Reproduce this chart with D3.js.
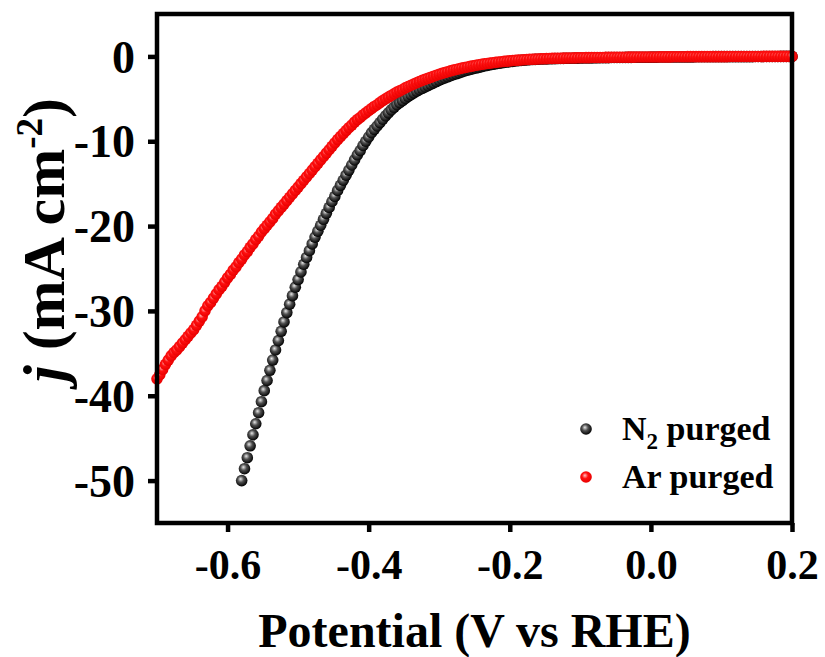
<!DOCTYPE html>
<html>
<head>
<meta charset="utf-8">
<script src="https://cdn.jsdelivr.net/npm/d3@7"></script>
<style>
  html, body { margin: 0; padding: 0; background: #fff; }
  svg text { font-family: "Liberation Serif", "Times New Roman", serif; font-weight: bold; }
</style>
</head>
<body>
<svg id="chart" width="825" height="657"></svg>
<script>
// ---------------- data (potential in V vs RHE, current density in mA cm^-2) ----------------
const potentialAr = [
  -0.700,-0.696,-0.692,-0.688,-0.684,-0.680,-0.676,-0.672,-0.668,-0.664,
  -0.660,-0.656,-0.652,-0.648,-0.644,-0.640,-0.636,-0.632,-0.628,-0.624,
  -0.620,-0.616,-0.612,-0.608,-0.604,-0.600,-0.596,-0.592,-0.588,-0.584,
  -0.580,-0.576,-0.572,-0.568,-0.564,-0.560,-0.556,-0.552,-0.548,-0.544,
  -0.540,-0.536,-0.532,-0.528,-0.524,-0.520,-0.516,-0.512,-0.508,-0.504,
  -0.500,-0.496,-0.492,-0.488,-0.484,-0.480,-0.476,-0.472,-0.468,-0.464,
  -0.460,-0.456,-0.452,-0.448,-0.444,-0.440,-0.436,-0.432,-0.428,-0.424,
  -0.420,-0.416,-0.412,-0.408,-0.404,-0.400,-0.396,-0.392,-0.388,-0.384,
  -0.380,-0.376,-0.372,-0.368,-0.364,-0.360,-0.356,-0.352,-0.348,-0.344,
  -0.340,-0.336,-0.332,-0.328,-0.324,-0.320,-0.316,-0.312,-0.308,-0.304,
  -0.300,-0.296,-0.292,-0.288,-0.284,-0.280,-0.276,-0.272,-0.268,-0.264,
  -0.260,-0.256,-0.252,-0.248,-0.244,-0.240,-0.236,-0.232,-0.228,-0.224,
  -0.220,-0.216,-0.212,-0.208,-0.204,-0.200,-0.196,-0.192,-0.188,-0.184,
  -0.180,-0.176,-0.172,-0.168,-0.164,-0.160,-0.156,-0.152,-0.148,-0.144,
  -0.140,-0.136,-0.132,-0.128,-0.124,-0.120,-0.116,-0.112,-0.108,-0.104,
  -0.100,-0.096,-0.092,-0.088,-0.084,-0.080,-0.076,-0.072,-0.068,-0.064,
  -0.060,-0.056,-0.052,-0.048,-0.044,-0.040,-0.036,-0.032,-0.028,-0.024,
  -0.020,-0.016,-0.012,-0.008,-0.004, 0.000, 0.004, 0.008, 0.012, 0.016,
   0.020, 0.024, 0.028, 0.032, 0.036, 0.040, 0.044, 0.048, 0.052, 0.056,
   0.060, 0.064, 0.068, 0.072, 0.076, 0.080, 0.084, 0.088, 0.092, 0.096,
   0.100, 0.104, 0.108, 0.112, 0.116, 0.120, 0.124, 0.128, 0.132, 0.136,
   0.140, 0.144, 0.148, 0.152, 0.156, 0.160, 0.164, 0.168, 0.172, 0.176,
   0.180, 0.184, 0.188, 0.192, 0.196, 0.200
];
const currentAr = [
  -38.0,-37.5,-36.9,-36.3,-35.8,-35.3,-34.9,-34.6,-34.2,-33.8,
  -33.4,-33.0,-32.6,-32.2,-31.7,-31.2,-30.7,-30.0,-29.4,-29.0,
  -28.5,-28.0,-27.5,-27.1,-26.6,-26.1,-25.7,-25.2,-24.8,-24.3,
  -23.9,-23.4,-23.0,-22.5,-22.1,-21.6,-21.2,-20.7,-20.3,-19.9,
  -19.5,-19.1,-18.6,-18.2,-17.8,-17.4,-17.0,-16.6,-16.2,-15.8,
  -15.4,-15.0,-14.6,-14.2,-13.8,-13.4,-13.0,-12.6,-12.2,-11.8,
  -11.4,-11.0,-10.6,-10.2,-9.8,-9.45,-9.1,-8.75,-8.4,-8.1,
  -7.75,-7.45,-7.2,-6.9,-6.65,-6.4,-6.15,-5.9,-5.7,-5.45,
  -5.2,-5.0,-4.8,-4.6,-4.4,-4.2,-4.05,-3.9,-3.7,-3.55,
  -3.4,-3.25,-3.1,-2.95,-2.82,-2.7,-2.58,-2.46,-2.34,-2.22,
  -2.1,-2.0,-1.9,-1.8,-1.71,-1.62,-1.54,-1.46,-1.38,-1.31,
  -1.24,-1.17,-1.11,-1.05,-0.99,-0.93,-0.88,-0.83,-0.79,-0.74,
  -0.7,-0.66,-0.62,-0.59,-0.56,-0.52,-0.49,-0.47,-0.44,-0.42,
  -0.39,-0.37,-0.35,-0.33,-0.32,-0.3,-0.28,-0.27,-0.26,-0.24,
  -0.23,-0.22,-0.21,-0.21,-0.2,-0.19,-0.18,-0.18,-0.17,-0.16,
  -0.15,-0.15,-0.14,-0.14,-0.13,-0.13,-0.12,-0.12,-0.12,-0.11,
  -0.11,-0.1,-0.1,-0.1,-0.09,-0.09,-0.09,-0.08,-0.08,-0.08,
  -0.07,-0.07,-0.07,-0.07,-0.06,-0.06,-0.06,-0.06,-0.05,-0.05,
  -0.05,-0.05,-0.05,-0.04,-0.04,-0.04,-0.04,-0.04,-0.03,-0.03,
  -0.03,-0.03,-0.03,-0.03,-0.03,-0.02,-0.02,-0.02,-0.02,-0.02,
  -0.02,-0.02,-0.02,-0.01,-0.01,-0.01,-0.01,-0.01,-0.01,-0.01,
  -0.01,-0.01,-0.01,-0.01,-0.01,0,0,0,0,0,
  0,0,0,0,0,0
];
const potentialN2 = [
  -0.580,-0.576,-0.572,-0.568,-0.564,-0.560,-0.556,-0.552,-0.548,-0.544,
  -0.540,-0.536,-0.532,-0.528,-0.524,-0.520,-0.516,-0.512,-0.508,-0.504,
  -0.500,-0.496,-0.492,-0.488,-0.484,-0.480,-0.476,-0.472,-0.468,-0.464,
  -0.460,-0.456,-0.452,-0.448,-0.444,-0.440,-0.436,-0.432,-0.428,-0.424,
  -0.420,-0.416,-0.412,-0.408,-0.404,-0.400,-0.396,-0.392,-0.388,-0.384,
  -0.380,-0.376,-0.372,-0.368,-0.364,-0.360,-0.356,-0.352,-0.348,-0.344,
  -0.340,-0.336,-0.332,-0.328,-0.324,-0.320,-0.316,-0.312,-0.308,-0.304,
  -0.300,-0.296,-0.292,-0.288,-0.284,-0.280,-0.276,-0.272,-0.268,-0.264,
  -0.260,-0.256,-0.252,-0.248,-0.244,-0.240,-0.236,-0.232,-0.228,-0.224,
  -0.220,-0.216,-0.212,-0.208,-0.204,-0.200,-0.196,-0.192,-0.188,-0.184,
  -0.180,-0.176,-0.172,-0.168,-0.164,-0.160,-0.156,-0.152,-0.148,-0.144,
  -0.140,-0.136,-0.132,-0.128,-0.124,-0.120,-0.116,-0.112,-0.108,-0.104,
  -0.100,-0.096,-0.092,-0.088,-0.084,-0.080,-0.076,-0.072,-0.068,-0.064,
  -0.060,-0.056,-0.052,-0.048,-0.044,-0.040,-0.036,-0.032,-0.028,-0.024,
  -0.020,-0.016,-0.012,-0.008,-0.004, 0.000, 0.004, 0.008, 0.012, 0.016,
   0.020, 0.024, 0.028, 0.032, 0.036, 0.040, 0.044, 0.048, 0.052, 0.056,
   0.060, 0.064, 0.068, 0.072, 0.076, 0.080, 0.084, 0.088, 0.092, 0.096,
   0.100, 0.104, 0.108, 0.112, 0.116, 0.120, 0.124, 0.128, 0.132, 0.136,
   0.140, 0.144, 0.148, 0.152, 0.156, 0.160, 0.164, 0.168, 0.172, 0.176,
   0.180, 0.184, 0.188, 0.192, 0.196, 0.200
];
const currentN2 = [
  -50.0,-48.6,-47.3,-45.9,-44.6,-43.3,-42.0,-40.7,-39.4,-38.2,
  -37.0,-35.8,-34.6,-33.5,-32.4,-31.3,-30.2,-29.2,-28.2,-27.2,
  -26.3,-25.4,-24.5,-23.7,-22.9,-22.1,-21.3,-20.6,-19.9,-19.2,
  -18.5,-17.8,-17.1,-16.5,-15.8,-15.2,-14.6,-14.0,-13.4,-12.8,
  -12.2,-11.6,-11.1,-10.5,-10.0,-9.5,-9.0,-8.6,-8.2,-7.8,
  -7.4,-7.0,-6.65,-6.3,-6.0,-5.7,-5.45,-5.2,-4.95,-4.7,
  -4.5,-4.3,-4.1,-3.92,-3.76,-3.6,-3.44,-3.28,-3.12,-2.96,
  -2.8,-2.66,-2.53,-2.4,-2.28,-2.16,-2.05,-1.94,-1.83,-1.72,
  -1.62,-1.53,-1.45,-1.37,-1.29,-1.21,-1.13,-1.06,-0.99,-0.93,
  -0.87,-0.81,-0.76,-0.71,-0.66,-0.62,-0.58,-0.54,-0.5,-0.47,
  -0.44,-0.41,-0.39,-0.37,-0.35,-0.33,-0.31,-0.3,-0.29,-0.28,
  -0.27,-0.26,-0.25,-0.24,-0.23,-0.22,-0.22,-0.21,-0.2,-0.2,
  -0.19,-0.18,-0.18,-0.17,-0.17,-0.16,-0.16,-0.15,-0.15,-0.14,
  -0.14,-0.13,-0.13,-0.12,-0.12,-0.12,-0.11,-0.11,-0.11,-0.1,
  -0.1,-0.1,-0.09,-0.09,-0.09,-0.08,-0.08,-0.08,-0.07,-0.07,
  -0.07,-0.07,-0.06,-0.06,-0.06,-0.06,-0.05,-0.05,-0.05,-0.05,
  -0.05,-0.04,-0.04,-0.04,-0.04,-0.04,-0.04,-0.03,-0.03,-0.03,
  -0.03,-0.03,-0.03,-0.03,-0.02,-0.02,-0.02,-0.02,-0.02,-0.02,
  -0.02,-0.02,-0.01,-0.01,-0.01,-0.01,-0.01,-0.01,-0.01,-0.01,
  -0.01,0,0,0,0,0
];
const xTicks = [-0.6, -0.4, -0.2, 0.0, 0.2];
const xTickLabels = ["-0.6", "-0.4", "-0.2", "0.0", "0.2"];
const yTicks = [0, -10, -20, -30, -40, -50];
const yTickLabels = ["0", "-10", "-20", "-30", "-40", "-50"];
const seriesNames = ["N2 purged", "Ar purged"];

// ---------------- layout ----------------
const W = 825, H = 657;
const margin = { left: 157, right: 33, top: 14, bottom: 134 };
const iw = W - margin.left - margin.right;
const ih = H - margin.top - margin.bottom;
const FONT = '"Liberation Serif", "Times New Roman", serif';

const svg = d3.select("#chart");
const defs = svg.append("defs");

function sphere(id, light, mid, dark) {
  const gr = defs.append("radialGradient").attr("id", id)
    .attr("cx", "45%").attr("cy", "42%").attr("r", "58%").attr("fx", "40%").attr("fy", "36%");
  gr.append("stop").attr("offset", "0%").attr("stop-color", light);
  gr.append("stop").attr("offset", "45%").attr("stop-color", mid);
  gr.append("stop").attr("offset", "100%").attr("stop-color", dark);
}
sphere("gBlack", "#e8e8e8", "#505050", "#000000");
sphere("gRed", "#ffc4c4", "#ff1010", "#e80000");
const fills = ["url(#gBlack)", "url(#gRed)"];

const x = d3.scaleLinear().domain([-0.7, 0.2]).range([0, iw]);
const y = d3.scaleLinear().domain([-55, 5]).range([ih, 0]);

const g = svg.append("g").attr("transform", `translate(${margin.left},${margin.top})`);

const series = [
  potentialN2.map((v, i) => ({ v, j: currentN2[i] })),
  potentialAr.map((v, i) => ({ v, j: currentAr[i] }))
];

const R = 5.8;
series.forEach((data, si) => {
  g.append("g").selectAll("circle").data(data).join("circle")
    .attr("cx", d => x(d.v))
    .attr("cy", d => y(d.j))
    .attr("r", R)
    .attr("fill", fills[si]);
});

// axes
const axisW = 4.5;
const xAxis = d3.axisBottom(x).tickValues(xTicks).tickSize(9)
  .tickFormat((d, i) => xTickLabels[i]);
const yAxis = d3.axisLeft(y).tickValues(yTicks).tickSize(9).tickPadding(13)
  .tickFormat((d, i) => yTickLabels[i]);

const gx = g.append("g").attr("transform", `translate(0,${ih})`).call(xAxis);
const gy = g.append("g").call(yAxis);
[gx, gy].forEach(a => {
  a.select(".domain").remove();
  a.selectAll(".tick line").attr("stroke", "#000").attr("stroke-width", axisW);
  a.selectAll(".tick text").attr("fill", "#000")
    .style("font-family", FONT).style("font-weight", "bold");
});
gx.selectAll(".tick text").style("font-size", "42px").attr("y", 56).attr("dy", 0);
gy.selectAll(".tick text").style("font-size", "46px").attr("dy", "0.34em");

// frame
g.append("rect").attr("x", 0).attr("y", 0).attr("width", iw).attr("height", ih)
  .attr("fill", "none").attr("stroke", "#000").attr("stroke-width", axisW);

// axis titles
svg.append("text")
  .attr("x", margin.left + iw / 2).attr("y", 647)
  .attr("text-anchor", "middle").style("font-size", "48px")
  .text("Potential (V vs RHE)");

const yt = svg.append("text")
  .attr("transform", "translate(64,240) rotate(-90)")
  .attr("text-anchor", "middle").style("font-size", "60px");
yt.append("tspan").style("font-style", "italic").text("j");
yt.append("tspan").text(" (mA cm");
yt.append("tspan").attr("dy", -22).style("font-size", "37px").text("-2");
yt.append("tspan").attr("dy", 22).text(")");

// legend
const legY = [429, 477];
seriesNames.forEach((name, i) => {
  svg.append("circle").attr("cx", 586).attr("cy", legY[i]).attr("r", R).attr("fill", fills[i]);
  const t = svg.append("text").attr("x", 622).attr("y", legY[i] + 11).style("font-size", "34px");
  if (i === 0) {
    t.append("tspan").text("N");
    t.append("tspan").attr("dy", 9).style("font-size", "23px").text("2");
    t.append("tspan").attr("dy", -9).text(" purged");
  } else {
    t.text(name);
  }
});
</script>
</body>
</html>
